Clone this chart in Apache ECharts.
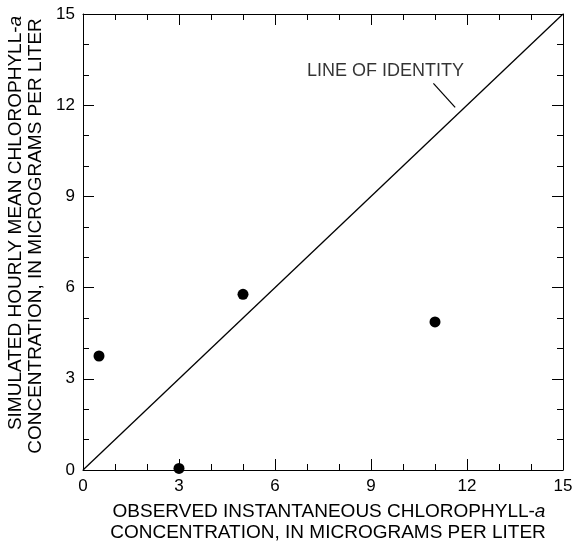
<!DOCTYPE html>
<html lang="en" style="height: 100%">
<head>
    <meta charset="UTF-8">
    <title>Simulated vs observed chlorophyll-a</title>
    <script src="https://cdn.jsdelivr.net/npm/echarts@6/dist/echarts.min.js"></script>
</head>
<body style="height: 100%; margin: 0">
<div id="main" style="width: 576px; height: 546px"></div>
<script>
    // observed (x) vs simulated (y), micrograms per liter
    var observed = [0.5, 3.0, 5.0, 11.0];
    var simulated = [3.75, 0.05, 5.78, 4.87];
    var identityLine = [[0, 0], [15, 15]];
    var leaderLine = [[10.95, 12.72], [11.63, 11.93]];
    var labelAnchor = [[9.45, 13.12]];
    var tickLabels = ['0', '3', '6', '9', '12', '15'];

    var font = 'Liberation Sans, Arial, Helvetica, sans-serif';
    var points = observed.map(function (v, i) { return [v, simulated[i]]; });

    function axis(pos, showLabel) {
        return {
            type: 'value', position: pos, min: 0, max: 15, interval: 3,
            axisLine: {show: true, onZero: false, lineStyle: {color: '#000', width: 1}},
            axisTick: {show: true, inside: true, length: 11, lineStyle: {color: '#000'}},
            minorTick: {show: true, splitNumber: 3, length: 6, lineStyle: {color: '#000'}},
            splitLine: {show: false},
            axisLabel: {
                show: showLabel, margin: 8, color: '#000', fontSize: 17, fontFamily: font,
                formatter: function (v) { return tickLabels[v / 3]; }
            }
        };
    }

    var option = {
        backgroundColor: '#fff',
        animation: false,
        grid: {left: 83, right: 13, top: 14, bottom: 76},
        xAxis: [axis('bottom', true), axis('top', false)],
        yAxis: [axis('left', true), axis('right', false)],
        series: [
            {
                type: 'line', data: identityLine, symbol: 'none',
                lineStyle: {color: '#000', width: 1.3}
            },
            {
                type: 'line', data: leaderLine, symbol: 'none',
                lineStyle: {color: '#000', width: 1.2}
            },
            {
                type: 'scatter', data: labelAnchor, symbolSize: 0,
                label: {
                    show: true, position: 'inside', formatter: 'LINE OF IDENTITY',
                    color: '#000', fontSize: 18, fontFamily: font
                }
            },
            {
                type: 'scatter', data: points, symbol: 'circle', symbolSize: 11,
                itemStyle: {color: '#000', opacity: 1}
            }
        ],
        graphic: [
            {
                type: 'text', x: 329, y: 521,
                style: {
                    text: 'OBSERVED INSTANTANEOUS CHLOROPHYLL-{i|a}',
                    font: '19px ' + font, fill: '#000',
                    align: 'center', verticalAlign: 'bottom',
                    rich: {i: {fontStyle: 'italic', fontSize: 19, fontFamily: font}}
                }
            },
            {
                type: 'text', x: 328, y: 542,
                style: {
                    text: 'CONCENTRATION, IN MICROGRAMS PER LITER',
                    font: '19px ' + font, fill: '#000',
                    align: 'center', verticalAlign: 'bottom'
                }
            },
            {
                type: 'text', x: 25, y: 223, rotation: Math.PI / 2,
                style: {
                    text: 'SIMULATED HOURLY MEAN CHLOROPHYLL-{i|a}',
                    font: '19px ' + font, fill: '#000',
                    align: 'center', verticalAlign: 'bottom',
                    rich: {i: {fontStyle: 'italic', fontSize: 19, fontFamily: font}}
                }
            },
            {
                type: 'text', x: 45, y: 236, rotation: Math.PI / 2,
                style: {
                    text: 'CONCENTRATION, IN MICROGRAMS PER LITER',
                    font: '19px ' + font, fill: '#000',
                    align: 'center', verticalAlign: 'bottom'
                }
            }
        ]
    };

    var myChart = echarts.init(document.getElementById('main'));
    myChart.setOption(option);
</script>
</body>
</html>
